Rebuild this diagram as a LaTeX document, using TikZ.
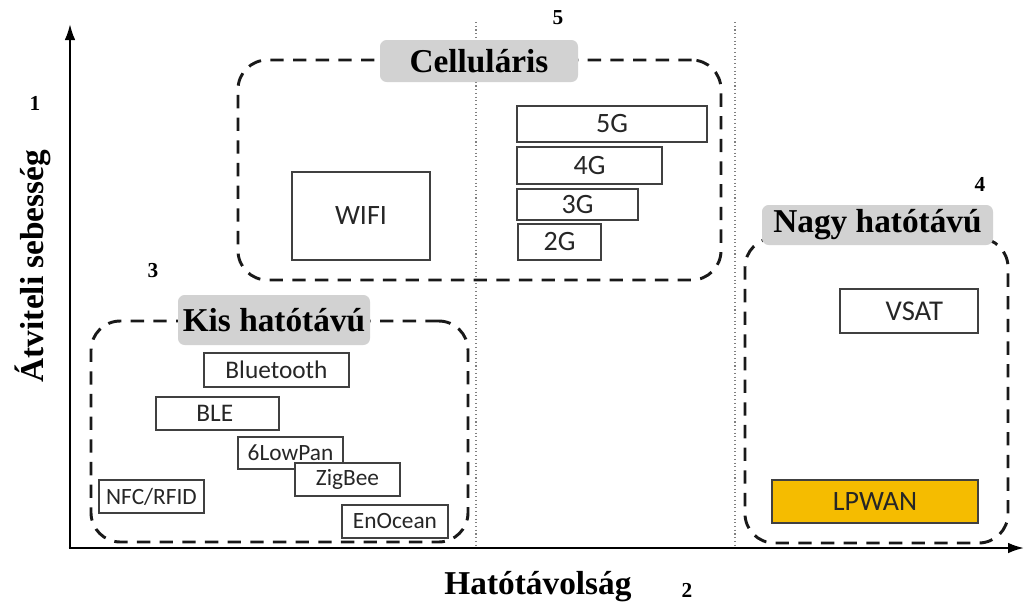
\documentclass[tikz,border=0pt]{standalone}
\usepackage{fontspec}
\setmainfont{Liberation Serif}
\newfontfamily\boxfont{Carlito}
\usetikzlibrary{fit,arrows.meta}
\definecolor{lpwan}{HTML}{F5BC00}
\definecolor{labelgray}{HTML}{D2D2D2}
\definecolor{boxline}{HTML}{404040}
\tikzset{
  tbox/.style={draw=boxline, line width=1.3pt, inner sep=0pt},
  btext/.style={font=\boxfont\fontsize{#1}{#1}\selectfont, text=black!85, inner sep=0pt},
  group/.style={draw=black!90, line width=2.2pt, dash pattern=on 10pt off 7pt, rounded corners=22pt, inner sep=0pt},
  glabel/.style={fill=labelgray, rounded corners=5pt, inner sep=0pt},
  title/.style={font=\bfseries\fontsize{25}{30}\selectfont},
  num/.style={font=\bfseries\fontsize{16}{18}\selectfont},
  axis/.style={line width=1.6pt, -{Latex[length=12pt,width=8pt]}},
  divider/.style={draw=gray, dotted, line width=0.8pt}
}
\begin{document}
\begin{tikzpicture}[x=0.75pt,y=-0.75pt]
\useasboundingbox (0,0) rectangle (1024,603);
% dividers
\coordinate (d1t) at (476,22); \coordinate (d1b) at (476,548);
\coordinate (d2t) at (735,22); \coordinate (d2b) at (735,548);
\draw[divider] (d1t) -- (d1b);
\draw[divider] (d2t) -- (d2b);
% axes
\coordinate (o) at (70,548);
\coordinate (ytop) at (70,24);
\coordinate (xend) at (1024,548);
\draw[axis] (o) -- (ytop);
\draw[axis] ([xshift=-1pt]o) -- (xend);
% groups
\node[group, fit={(238,60) (721,280)}] (cellg) {};
\node[group, fit={(91,321) (468,542)}] (kisg) {};
\node[group, fit={(745,238) (1008,543)}] (nagyg) {};
% group labels
\node[glabel, fit={(380,40) (578,82)}] (celll) {};
\node[title] at (celll.center) (celltxt) {Celluláris};
\node[glabel, fit={(178,295) (370,345)}] (kisl) {};
\node[title] at (kisl.center) (kistxt) {Kis hatótávú};
\node[glabel, fit={(762,205) (993,245)}] (nagyl) {};
\node[title] at (nagyl.center) (nagytxt) {Nagy hatótávú};
% cellular boxes
\node[tbox, fit={(292,172) (430,260)}] (wifi) {};
\node[btext=21] at (wifi.center) (wifit) {WIFI};
\node[tbox, fit={(517,106) (707,142)}] (g5) {};
\node[btext=21] at (g5.center) (g5t) {5G};
\node[tbox, fit={(517,147) (662,184)}] (g4) {};
\node[btext=21] at (g4.center) (g4t) {4G};
\node[tbox, fit={(517,189) (638,220)}] (g3) {};
\node[btext=21] at (g3.center) (g3t) {3G};
\node[tbox, fit={(518,224) (601,260)}] (g2) {};
\node[btext=21] at (g2.center) (g2t) {2G};
% short range boxes
\node[tbox, fit={(204,353) (349,387)}] (bt) {};
\node[btext=19] at (bt.center) (btt) {Bluetooth};
\node[tbox, fit={(156,397) (279,430)}] (ble) {};
\node[btext=19] at ([xshift=-2pt]ble.center) (blet) {BLE};
\node[tbox, fit={(238,437) (343,469)}] (low) {};
\node[btext=17.5] at (low.center) (lowt) {6LowPan};
\node[tbox, fill=white, fit={(295,463) (400,496)}] (zig) {};
\node[btext=17.5] at (zig.center) (zigt) {ZigBee};
\node[tbox, fit={(99,480) (204,513)}] (nfc) {};
\node[btext=17.5] at (nfc.center) (nfct) {NFC/RFID};
\node[tbox, fill=white, fit={(342,505) (448,538)}] (eno) {};
\node[btext=17.5] at (eno.center) (enot) {EnOcean};
% long range boxes
\node[tbox, fit={(840,289) (978,333)}] (vsat) {};
\node[btext=21.5] at ([xshift=4pt]vsat.center) (vsatt) {VSAT};
\node[tbox, fill=lpwan, fit={(772,480) (978,523)}] (lpwan) {};
\node[btext=21] at (lpwan.center) (lpwant) {LPWAN};
% axis titles
\node[title, rotate=90] at (33,266) (ytitle) {Átviteli sebesség};
\node[title] at (538,587) (xtitle) {Hatótávolság};
% numbers
\node[num] at (35,103) (n1) {1};
\node[num] at (687,590) (n2) {2};
\node[num] at (153,271) (n3) {3};
\node[num] at (980,184) (n4) {4};
\node[num] at (558,18) (n5) {5};
\end{tikzpicture}
\end{document}
